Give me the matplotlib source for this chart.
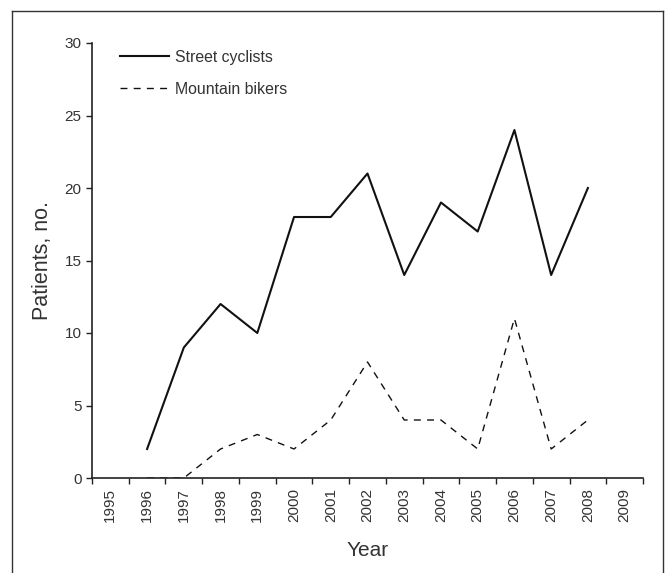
import numpy as np
import matplotlib.pyplot as plt
from matplotlib.lines import Line2D

plt.rcParams['font.family'] = ['Liberation Sans', 'DejaVu Sans']

years = ['1995', '1996', '1997', '1998', '1999', '2000', '2001', '2002',
         '2003', '2004', '2005', '2006', '2007', '2008', '2009']
data_years = ['1996', '1997', '1998', '1999', '2000', '2001', '2002',
              '2003', '2004', '2005', '2006', '2007', '2008']
street = [2, 9, 12, 10, 18, 18, 21, 14, 19, 17, 24, 14, 20]
mountain = [0, 0, 2, 3, 2, 4, 8, 4, 4, 2, 11, 2, 4]

txt = '#333333'

fig = plt.figure(figsize=(6.67, 5.73), dpi=100)
ax = fig.add_axes([92 / 667, 1 - 478 / 573, 551 / 667, 435 / 573])

# positions: category centres
xpos = [years.index(y) + 0.5 for y in data_years]
ax.plot(xpos, street, color='#111111', linewidth=1.5, label='Street cyclists')
ax.plot(xpos, mountain, color='#111111', linewidth=1.0,
        dashes=(5, 4.5), label='Mountain bikers')

ax.set_xlim(0, len(years))
ax.set_ylim(0, 30)

# ticks on category boundaries, labels in the middle
ax.set_xticks(np.arange(0, len(years) + 1))
ax.set_xticklabels([])
ax.set_xticks(np.arange(len(years)) + 0.5, minor=True)
ax.set_xticklabels(years, minor=True, rotation=90, fontsize=11, color=txt)
ax.tick_params(axis='x', which='minor', length=0, pad=7)
ax.tick_params(axis='x', which='major', length=4, width=1, color='#222222')

ax.set_yticks([0, 5, 10, 15, 20, 25, 30])
ax.tick_params(axis='y', length=4, width=1, color='#222222',
               labelsize=11, labelcolor=txt)

for s in ['top', 'right']:
    ax.spines[s].set_visible(False)
for s in ['left', 'bottom']:
    ax.spines[s].set_linewidth(1.2)
    ax.spines[s].set_color('#222222')

ax.set_xlabel('Year', fontsize=15, color=txt, labelpad=14)
ax.set_ylabel('Patients, no.', fontsize=15.5, color=txt, labelpad=8)

ax.legend(loc='upper left', bbox_to_anchor=(0.025, 1.017), frameon=False,
          fontsize=11.4, handlelength=3.1, labelspacing=1.08, handletextpad=0.38,
          labelcolor=txt)

# outer frame (open at the bottom)
W, H = 667, 573
kw = dict(color='#333333', linewidth=1.0, transform=fig.transFigure)
fig.add_artist(Line2D([12 / W, 12 / W], [0, 1 - 11 / H], **kw))
fig.add_artist(Line2D([663 / W, 663 / W], [0, 1 - 11 / H], **kw))
fig.add_artist(Line2D([12 / W, 663 / W], [1 - 11 / H, 1 - 11 / H], **kw))

plt.savefig('out.png', dpi=100)
